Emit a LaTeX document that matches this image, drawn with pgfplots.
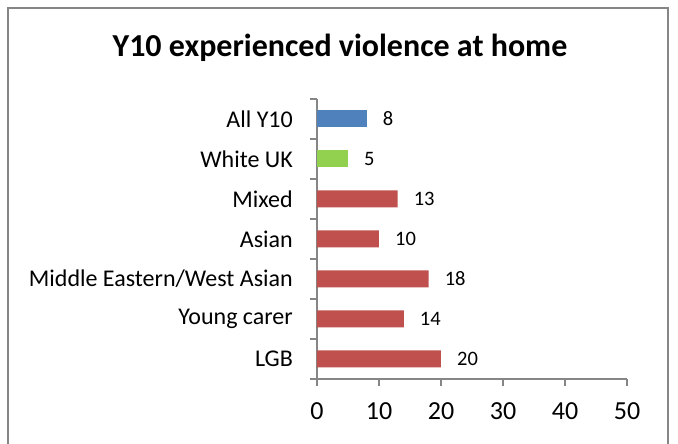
\documentclass[border=0pt]{standalone}
\usepackage{fontspec}
\setmainfont{Carlito}
\usepackage{pgfplots}
\pgfplotsset{compat=1.18}
\definecolor{cblue}{HTML}{4F81BD}
\definecolor{cgreen}{HTML}{92D050}
\definecolor{cred}{HTML}{C0504D}
\definecolor{cgray}{HTML}{868686}
\begin{document}
\begin{tikzpicture}[x=1pt,y=1pt]
\path[use as bounding box] (0,0) rectangle (678,444);
\fill[white] (0,0) rectangle (678,444);
\draw[cgray, line width=1.5pt] (8,-2) -- (8,436) -- (668,436) -- (668,-2);
\node[font=\fontsize{32}{36}\selectfont\bfseries] at (340,396) {Y10 experienced violence at home};
\begin{axis}[
  at={(317pt,65pt)}, anchor=south west,
  scale only axis, width=310pt, height=280pt,
  xbar, bar width=17pt,
  xmin=0, xmax=50, xtick={0,10,...,50},
  ymin=-0.5, ymax=6.5,
  ytick={0,...,6},
  yticklabels={LGB,Young carer,Middle Eastern/West Asian,Asian,Mixed,White UK,All Y10},
  minor ytick={-0.5,0.5,...,6.5},
  axis x line*=bottom, axis y line*=left,
  axis line style={cgray, line width=1.2pt},
  every tick/.style={cgray, line width=1.2pt},
  major y tick style={draw=none},
  tick align=outside,
  major tick length=7pt, minor tick length=7pt,
  /pgf/number format/assume math mode=true,
  xticklabel style={font=\fontsize{26}{30}\selectfont, inner sep=0pt, yshift=-16pt},
  yticklabel style={font=\fontsize{24}{28}\selectfont, inner sep=0pt, xshift=-17pt},
  nodes near coords,
  nodes near coords style={font=\fontsize{20.5}{24}\selectfont, anchor=west, inner sep=0pt, xshift=16pt, black},
  bar shift=0pt,
  clip=false,
]
\addplot[fill=cred, draw=none] coordinates {(20,0) (14,1) (18,2) (10,3) (13,4)};
\addplot[fill=cgreen, draw=none] coordinates {(5,5)};
\addplot[fill=cblue, draw=none] coordinates {(8,6)};
\end{axis}
\end{tikzpicture}
\end{document}
